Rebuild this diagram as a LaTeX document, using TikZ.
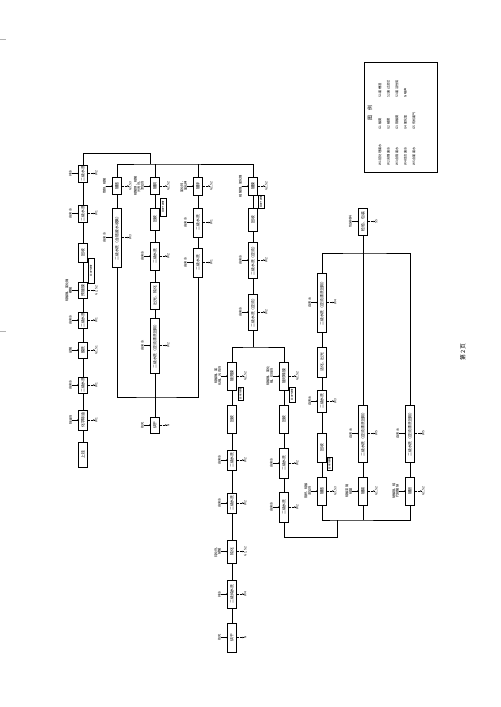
\documentclass[tikz,border=0pt]{standalone}
\usepackage{fontspec}
\setmainfont{Noto Sans CJK SC}
\usetikzlibrary{arrows.meta,calc}

\begin{document}
\begin{tikzpicture}[x=0.42mm, y=-0.42mm, line width=0.55pt, >={Stealth[length=1.6pt,width=1.6pt]},
    proc/.style={draw, rotate=90, minimum height=3.6mm, inner sep=0.3pt, font=\fontsize{4.6}{5.4}\selectfont},
    lbl/.style={rotate=90, inner sep=0.3pt, align=center, font=\fontsize{3.8}{4.3}\selectfont},
    notebox/.style={draw, rotate=90, minimum height=2.3mm, inner sep=0.2pt, font=\fontsize{2.7}{3.1}\selectfont},
    wout/.style={dash pattern=on 1pt off 0.8pt, ->}]
    \useasboundingbox (0,0) rectangle (500,707);

    % 工序框
    \foreach \n/\x/\y/\l/\t in {
        c1a/83/173.5/17/二级水洗, c1b/83/213.5/17/二级水洗, c1c/83/252.5/19/回收,
        c1d/83/290.5/16/预镀镍, c1e/83/320/16/二级水洗, c1f/83/350/16/酸洗,
        c1g/83/385/16/二级水洗, c1h/83/420/20/化学除油, c1i/83/454.5/25/上挂,
        cAa/117/186/17/镀铬, cAb/117/237.5/59/二级水洗（含铬废水收集）,
        cBa/155/186/17/镀铜, cBb/155/219/22/回收, cBc/155/256/28/二级水洗,
        cBd/155/295.5/27/出光、钝化, cBe/155/345.5/55/二级水洗（逆流漂洗回用）, cBf/155/425/16/烘干,
        cCa/198/186/18/镀锌, cCb/198/222.5/29/二级水洗, cCc/198/262.5/29/二级水洗,
        cDa/253/186/18/镀镍, cDb/253/219.5/23/回收, cDc/253/260/36/二级水洗（逆流）,
        cDd/253/312/36/二级水洗（逆流）,
        cEa/232/376/28/镀亮镍, cEb/232/419/28/回收, cEc/232/460/20/二级水洗,
        cEd/232/503/20/二级水洗, cEe/232/551.5/23/钝化, cEf/232/594/28/二级纯水洗,
        cEg/232/637.5/29/烘干,
        cFa/284/376/28/镀珍珠镍, cFb/284/419/28/回收, cFc/284/463/30/二级水洗,
        cFd/284/507/30/二级水洗,
        cGa/322/302.5/59/二级水洗（逆流漂洗回用）, cGb/322/362/30/活化、出光,
        cGc/322/401/22/二级水洗, cGd/322/447.5/29/回收, cGe/322/491/28/镀铬,
        cHa/363/221.5/27/检验、包装, cHb/363/433.5/57/二级水洗（逆流漂洗回用）, cHc/363/491/28/镀锡,
        cIa/410/433.5/57/二级水洗（逆流漂洗回用）, cIb/410/491/28/镀银}
        \node[proc, minimum width=\l*0.42mm] (\n) at (\x,\y) {\t};

    % 回收槽说明框
    \foreach \x/\y/\l in {91/270.5/25, 163/207/18, 261/202/13, 240.5/393.5/13, 292/394.5/15, 329.5/463.5/13}
        \node[notebox, minimum width=\l*0.42mm] at (\x,\y) {回用于镀槽};

    % 原料输入
    \foreach \b/\t in {c1a/纯水, c1b/自来水, c1d/{硫酸镍、氯化镍\\硼酸}, c1e/自来水, c1f/盐酸,
        c1g/自来水, c1h/除油剂, cAa/{铬酐、硫酸}, cAb/自来水, cBa/{硫酸铜、硫酸\\光亮剂、\\添加剂},
        cBc/自来水, cBe/自来水, cBf/热风, cCa/{氯化锌、\\氯化钾}, cCb/自来水, cCc/自来水,
        cDa/{硫酸镍、氯化镍}, cDc/自来水, cDd/自来水, cEa/{硫酸镍、氯\\化镍、光亮剂},
        cEc/自来水, cEd/自来水, cEe/{钝化剂、\\硝酸}, cEf/纯水, cEg/热风,
        cFa/{硫酸镍、氯化\\镍、珍珠剂}, cFc/自来水, cFd/自来水, cGa/自来水, cGc/自来水,
        cGe/{铬酐、硫酸\\添加剂}, cHa/包装材料, cHb/自来水, cHc/{硫酸亚锡\\硫酸}, cIa/自来水,
        cIb/{硝酸银、硫\\代硫酸钠}}{
        \node[lbl, anchor=south] (\b-i) at ($(\b.north)+(-6,0)$) {\t};
        \draw[->] (\b-i) -- (\b);
    }

    % 污染物输出
    \foreach \b/\t in {c1a/W2, c1b/W1, c1d/{G2, S2}, c1e/W1, c1f/{G1, S1}, c1g/W1, c1h/W1,
        cAa/{G3, S3}, cAb/W3, cBa/{G2, S2}, cBc/W2, cBe/W2, cBf/N, cCa/{G2, S2}, cCb/W1, cCc/W1,
        cDa/{G2, S2}, cDc/W2, cDd/W2, cEa/{G2, S2}, cEc/W2, cEd/W2, cEe/{G1, S2}, cEf/W4, cEg/N,
        cFa/{G2, S2}, cFc/W2, cFd/W2, cGa/W4, cGc/W3, cGe/{G3, S3}, cHa/S5, cHb/W5,
        cHc/{G1, S2}, cIa/W5, cIb/{G1, S2}}{
        \node[lbl, anchor=north] (\b-o) at ($(\b.south)+(7,0)$) {\t};
        \draw[wout] (\b) -- (\b-o);
    }

    % 连线
    \coordinate (k1) at (150,153);
    \coordinate (k2) at (150,164);
    \coordinate (k3) at (155,397);
    \coordinate (k4) at (253,347);
    \coordinate (k5) at (337,537);
    \coordinate (k6) at (337,520);
    \coordinate (k7) at (363,253);
    \draw (c1i) -- (c1h) -- (c1g) -- (c1f) -- (c1e) -- (c1d) -- (c1c) -- (c1b) -- (c1a);
    \draw (c1a) |- (k1) -- (k2);
    \draw (cAa) |- (k2) -| (cDa);
    \draw (cBa) -- (cBa |- k2);
    \draw (cCa) -- (cCa |- k2);
    \draw (cAa) -- (cAb);
    \draw (cBa) -- (cBb) -- (cBc) -- (cBd) -- (cBe) -- (cBf);
    \draw (cCa) -- (cCb) -- (cCc);
    \draw (cAb) |- (k3) -| (cCc);
    \draw (cDa) -- (cDb) -- (cDc) -- (cDd) -- (k4);
    \draw (cEa) |- (k4) -| (cFa);
    \draw (cEa) -- (cEb) -- (cEc) -- (cEd) -- (cEe) -- (cEf) -- (cEg);
    \draw (cFa) -- (cFb) -- (cFc) -- (cFd);
    \draw (cFd) |- (k5) -- (k6);
    \draw (cGe) |- (k6) -| (cIb);
    \draw (cHc) -- (cHc |- k6);
    \draw (cGa) -- (cGb) -- (cGc) -- (cGd) -- (cGe);
    \draw (cHa) -- (cHb) -- (cHc);
    \draw (cIa) -- (cIb);
    \draw (cGa) |- (k7) -| (cIa);

    % 图例
    \draw (364,62) rectangle (437,172);
    \node[rotate=90, font=\fontsize{6}{7}\selectfont] (lgd) at (370,113) {图\quad 例};
    \foreach \x/\i/\w/\g in {380/1/前处理废水/酸雾, 388.5/2/含镍废水/碱雾,
        397/3/含铬废水/铬酸雾, 405.5/4/综合废水/氰化氢, 414/5/含氰废水/有机废气}{
        \node[lbl, anchor=west] at (\x,166) {W\i\ \w};
        \node[lbl, anchor=west] at (\x,130) {G\i\ \g};
    }
    \foreach \x/\c/\s in {380/S1/废槽渣, 388.5/S2/废过滤芯, 397/S3/废活性炭, 405.5/N/噪声}
        \node[lbl, anchor=west] at (\x,98) {\c\ \s};

    % 页码及边缘标记
    \node[rotate=90, font=\fontsize{7}{8}\selectfont] (pg) at (463,352) {第\ 2\ 页};
    \draw[gray!60, line width=0.3pt] (0,39) -- (6,39);
    \draw[gray!60, line width=0.3pt] (0,331) -- (6,331);
\end{tikzpicture}
\end{document}
